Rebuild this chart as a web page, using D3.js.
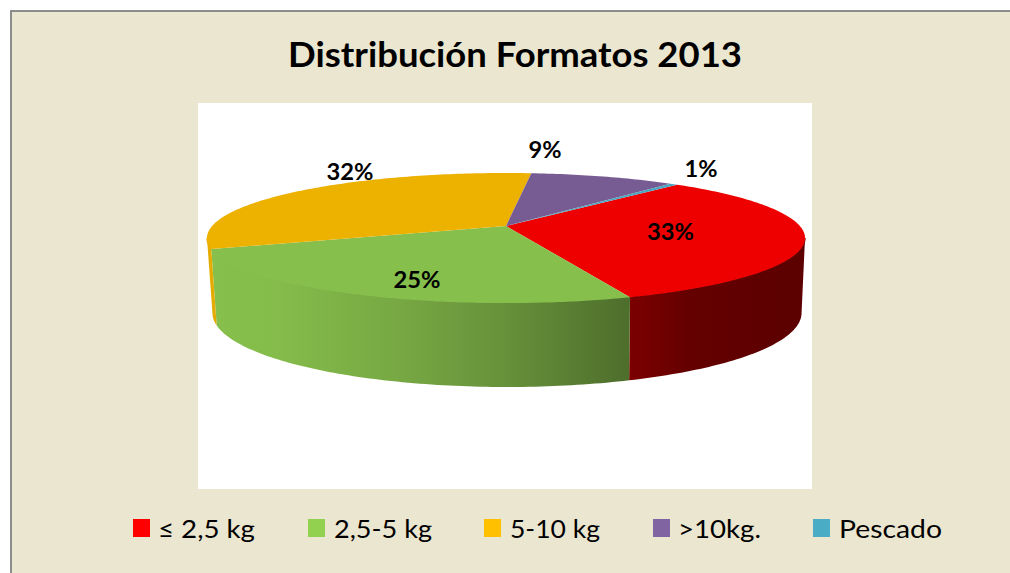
<!DOCTYPE html>
<html><head><meta charset="utf-8">
<script src="https://cdnjs.cloudflare.com/ajax/libs/d3/7.8.5/d3.min.js"></script>
<style>html,body{margin:0;padding:0;background:#fff}svg{display:block}text{font-family:Lato,"Open Sans",sans-serif;fill:#000}</style>
</head><body><svg id="c" width="1010" height="573"></svg>
<script>
const categories = ["≤ 2,5 kg","2,5-5 kg","5-10 kg",">10kg.","Pescado"];
const values = [32.8,25.1,32.2,9.4,0.5];
const valueLabels = ["33%","25%","32%","9%","1%"];
const topColors = ["#ee0000","#86bf4c","#edb100","#775b93","#4aa5bf"];
const legendColors = ["#ff0000","#92d050","#ffc000","#8064a2","#4bacc6"];
const title = "Distribución Formatos 2013";

// layout only
const labelCenters = [[670.5,240],[417,288],[350,180],[545,158],[701,177]];
const labelWidths = [47,47,47,33,33];
const legendSwatchX = [133,308,484,653,813];
const legendTextX = [158,334,510,678,839];
const legendTextW = [97,98,90,83,103];
const K = 0.1846;
const topDisc = {cx:506, cy:226, rx:293.9, ry:62.8};
const botDisc = {cx:507, cy:299.3, rx:289.5, ry:71.5};
const deg = Math.PI/180;

const svg = d3.select("#c");
svg.append("rect").attr("x",10).attr("y",10).attr("width",1000).attr("height",563).attr("fill","#8c8c8c");
svg.append("rect").attr("x",12).attr("y",12).attr("width",998).attr("height",561).attr("fill","#ebe6cf");
svg.append("rect").attr("x",198).attr("y",103).attr("width",614).attr("height",386).attr("fill","#fff");

const defs = svg.append("defs");
function grad(id,x1,x2,stops){
  const g = defs.append("linearGradient").attr("id",id).attr("gradientUnits","userSpaceOnUse")
    .attr("x1",x1).attr("x2",x2).attr("y1",0).attr("y2",0);
  stops.forEach(s=>g.append("stop").attr("offset",s[0]).attr("stop-color",s[1]));
}
grad("wall0",629,802,[[0,"#7c0000"],[0.35,"#640000"],[1,"#5c0000"]]);
grad("wall1",212,629,[[0,"#86bf4c"],[0.14,"#85bd4b"],[0.45,"#77a843"],[0.7,"#67913a"],[1,"#4e6e2c"]]);
grad("wall2",205,220,[[0,"#e8ae00"],[1,"#e0a800"]]);

// project a clockwise-from-top angle and disc radius onto the tilted disc
function project(d,a,r){
  const u = r*Math.sin(a), v = -r*Math.cos(a), w = 1-K*v;
  return [d.cx+d.rx*u/w, d.cy+d.ry*v/w];
}
const pie = d3.pie().sort(null).value(d=>d).startAngle(41.5*deg).endAngle((41.5+360)*deg);
const arcs = pie(values);
const line = d3.line();
function rim(d,a0,a1,r=1){
  const n = Math.max(2,Math.ceil((a1-a0)/deg));
  return d3.range(n+1).map(i=>project(d,a0+(a1-a0)*i/n,r));
}
// side walls: only the front part of the cylinder, between the silhouette angles
const wallLo = 100.6*deg, wallHi = 259.4*deg;
const walls = svg.append("g");
arcs.forEach((a,i)=>{
  const a0 = Math.max(a.startAngle,wallLo), a1 = Math.min(a.endAngle,wallHi);
  if(a1<=a0) return;
  const pts = rim(topDisc,a0,a1).concat(rim(botDisc,a0,a1).reverse());
  walls.append("path").attr("d",line(pts)+"Z").attr("fill",`url(#wall${i})`);
  // hairline along the top rim so no pale seam shows between wall and top face
  walls.append("path").attr("d",line(rim(topDisc,a0,a1))).attr("fill","none")
    .attr("stroke",`url(#wall${i})`).attr("stroke-width",1.2);
});
// top faces
const tops = svg.append("g");
arcs.forEach((a,i)=>{
  const pts = [[topDisc.cx,topDisc.cy]].concat(rim(topDisc,a.startAngle,a.endAngle));
  tops.append("path").attr("d",line(pts)+"Z").attr("fill",topColors[i]);
});
// value labels
function fit(sel,w){return sel.attr("textLength",w).attr("lengthAdjust","spacingAndGlyphs");}
valueLabels.forEach((t,i)=>{
  fit(svg.append("text").attr("x",labelCenters[i][0]).attr("y",labelCenters[i][1])
    .attr("text-anchor","middle").attr("font-size",23).attr("font-weight",700).text(t),labelWidths[i]);
});
fit(svg.append("text").attr("x",288).attr("y",67).attr("font-size",35).attr("font-weight",700).text(title),454);
categories.forEach((c,i)=>{
  svg.append("rect").attr("x",legendSwatchX[i]).attr("y",519).attr("width",17).attr("height",18).attr("fill",legendColors[i]);
  fit(svg.append("text").attr("x",legendTextX[i]).attr("y",538).attr("font-size",25).text(c),legendTextW[i]);
});
</script></body></html>
